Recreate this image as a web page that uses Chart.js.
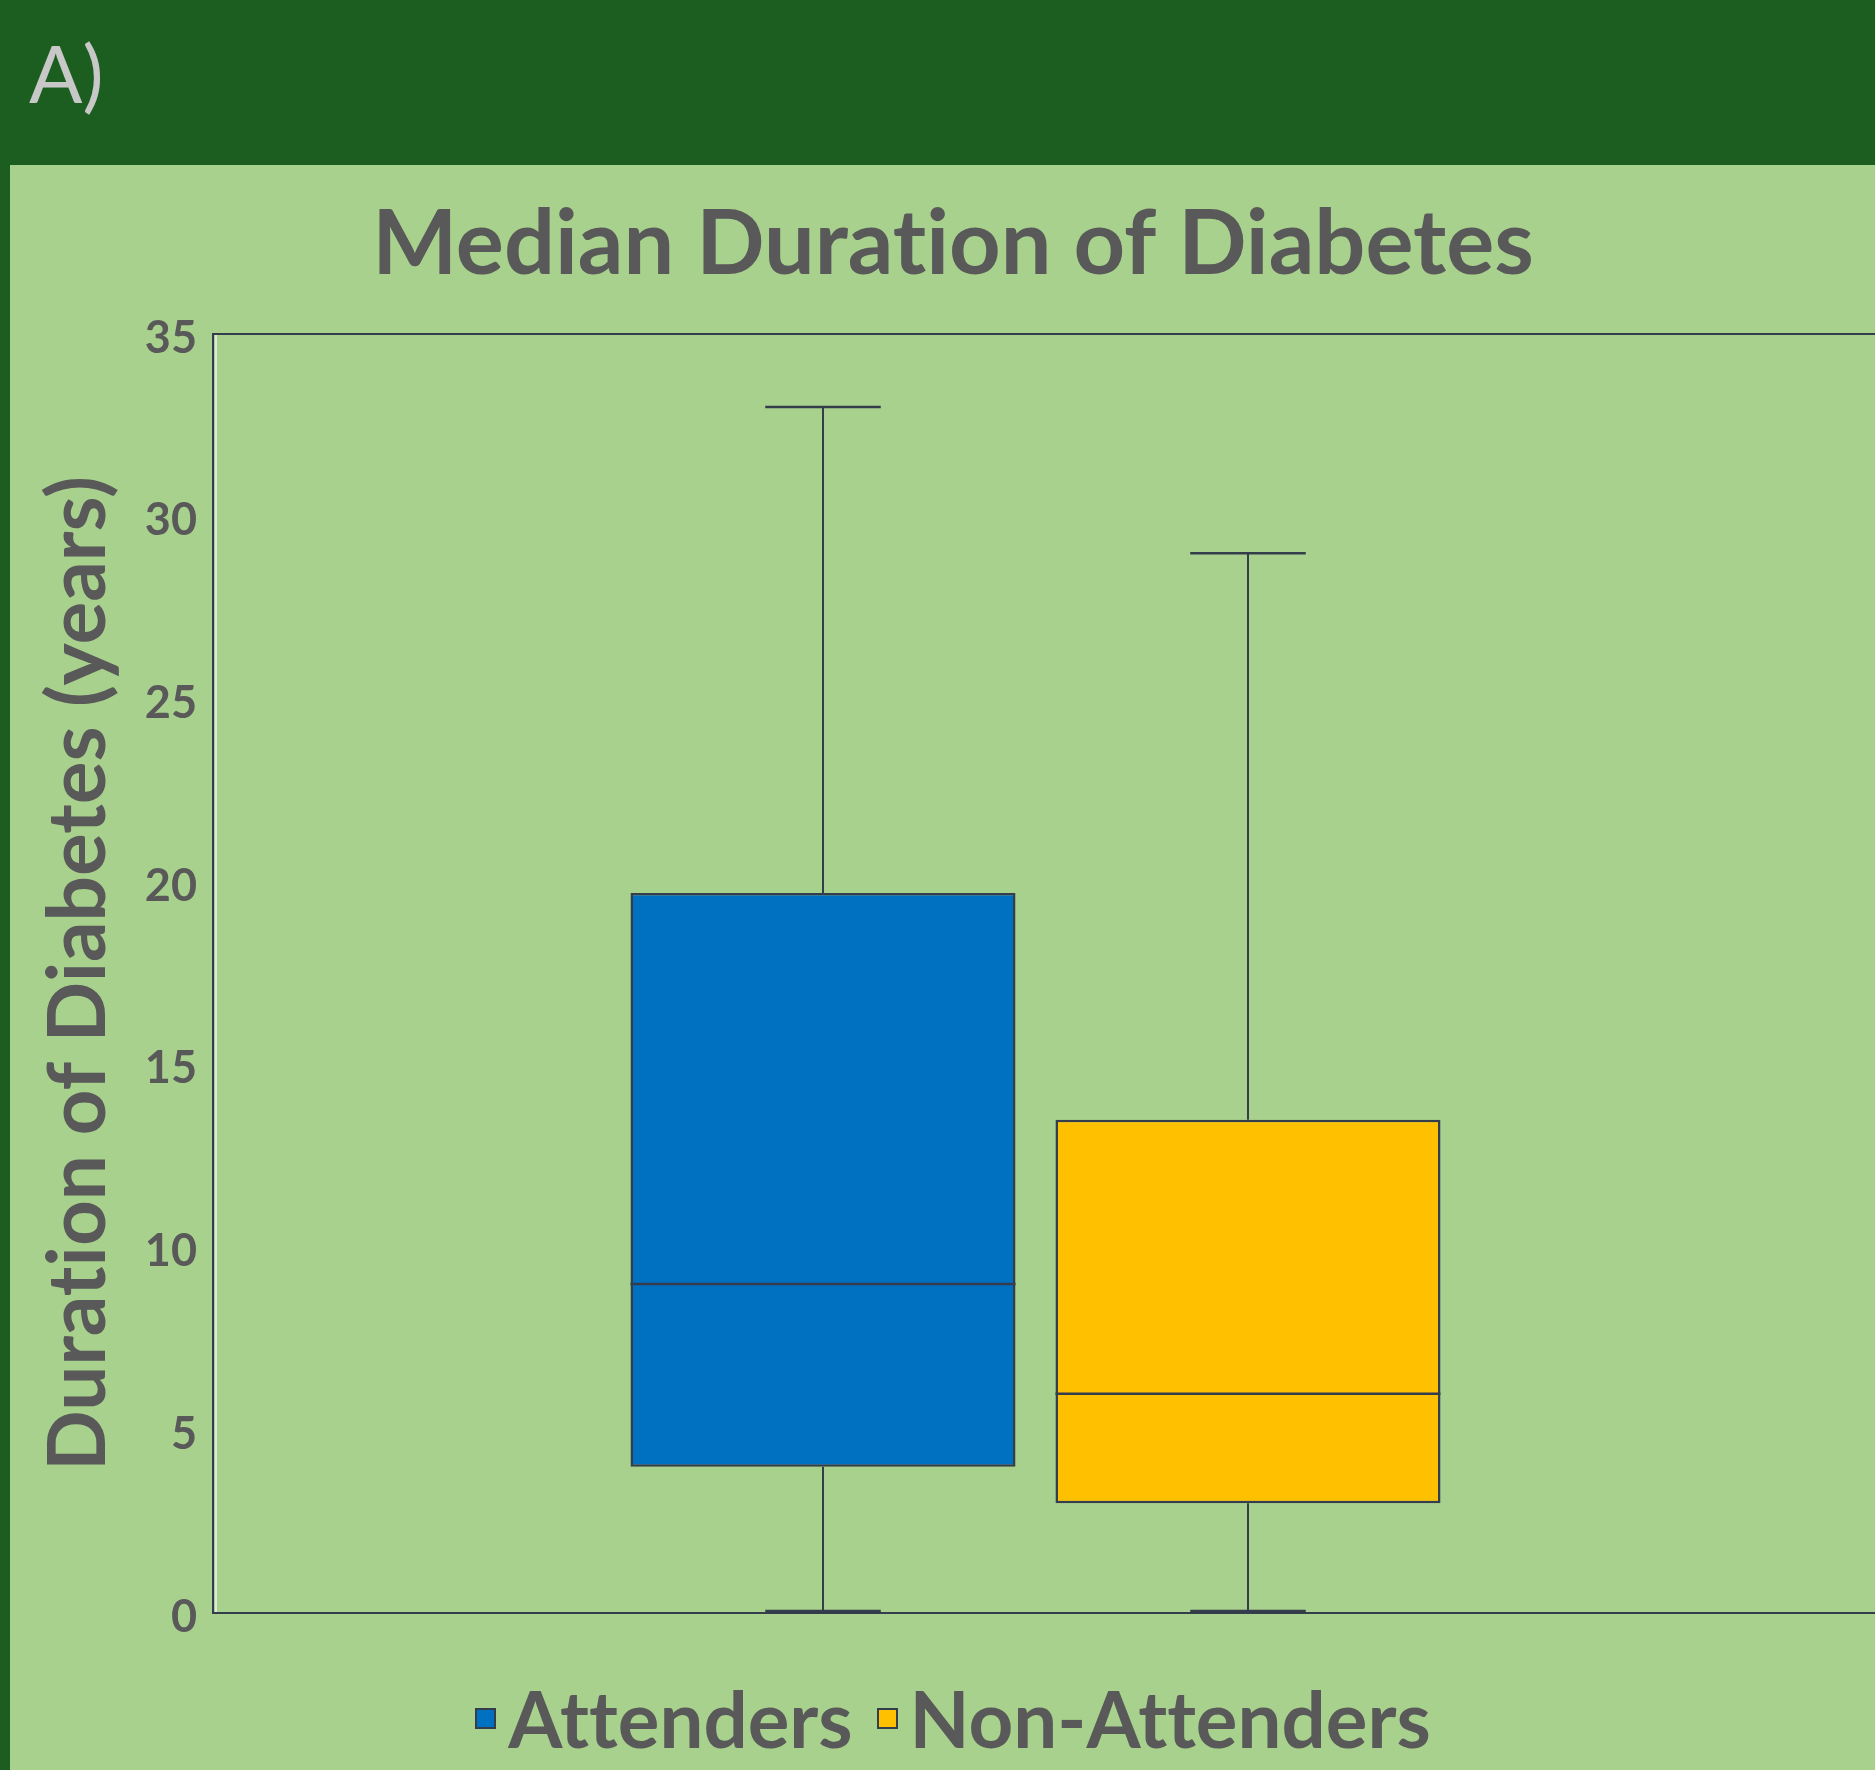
<!DOCTYPE html>
<html>
<head>
<meta charset="utf-8">
<title>Median Duration of Diabetes</title>
<script src="https://cdn.jsdelivr.net/npm/chart.js@4.4.1/dist/chart.umd.min.js"></script>
<style>
  html, body { margin: 0; padding: 0; }
  body {
    width: 1875px; height: 1770px; overflow: hidden; position: relative;
    background: #1B5E20; font-family: Lato, "Open Sans", sans-serif;
    font-variant-ligatures: none;
  }
  #panel { position: absolute; left: 10px; top: 165px; right: 0; bottom: 0; background: #A9D18E; }
  #tag {
    position: absolute; left: 29px; top: 33px; margin: 0;
    font-weight: 400; font-size: 79px; line-height: 1; color: #C8C8C8;
  }
  #chart { position: absolute; left: 10px; top: 165px; }
  #legend {
    position: absolute; left: 10px; top: 1679px; width: 1886px; height: 78px;
    display: flex; justify-content: center; align-items: center;
  }
  .item { display: flex; align-items: center; margin: 0 12px; }
  .swatch { width: 21px; height: 21px; box-sizing: border-box; border: 2px solid #343D4B; margin-right: 12px; }
  .label { font-weight: 700; font-size: 78px; line-height: 1; color: #595959; }
</style>
</head>
<body>
<div id="panel"></div>
<div id="tag">A)</div>
<canvas id="chart" width="1886" height="1605"></canvas>
<div id="legend"></div>
<script>
// Groups and their five-number summaries (years)
const groups = ['Attenders', 'Non-Attenders'];
const minVals = [0, 0];
const q1Vals = [4, 3];
const medianVals = [9, 6];
const q3Vals = [19.7, 13.5];
const maxVals = [33, 29];
const groupColors = ['#0070C0', '#FFC000'];

// Value axis
const yMin = 0;
const yMax = 35;
const yStep = 5;

const INK = '#343D4B';
const TEXT = '#595959';

// Plain glyphs on the canvas (no ligatures such as "ti")
const plainText = {
  id: 'plainText',
  beforeDraw(chart) { chart.ctx.textRendering = 'optimizeSpeed'; }
};

// Whiskers, caps and medians drawn on top of the floating-bar boxes,
// plus the plot frame lines.
const boxExtras = {
  id: 'boxExtras',
  beforeDatasetsDraw(chart) {
    const { ctx, chartArea, scales: { y } } = chart;
    ctx.save();
    // faint inner edge next to the value axis
    ctx.strokeStyle = 'rgba(235,235,235,0.85)';
    ctx.lineWidth = 2;
    ctx.beginPath();
    ctx.moveTo(chartArea.left + 3, chartArea.top + 1);
    ctx.lineTo(chartArea.left + 3, chartArea.bottom - 1);
    ctx.stroke();
    // top and bottom frame lines run to the right edge
    ctx.strokeStyle = INK;
    ctx.lineWidth = 2;
    [y.max, y.min].forEach(v => {
      const py = Math.round(y.getPixelForValue(v));
      ctx.beginPath();
      ctx.moveTo(chartArea.left, py);
      ctx.lineTo(chart.width, py);
      ctx.stroke();
    });
    ctx.restore();
  },
  afterDatasetsDraw(chart) {
    const { ctx, scales: { y } } = chart;
    ctx.save();
    ctx.strokeStyle = INK;
    chart.data.datasets.forEach((ds, i) => {
      const meta = chart.getDatasetMeta(i);
      meta.data.forEach(bar => {
        const { x, width } = bar.getProps(['x', 'width'], true);
        const capHalf = width * 0.15;
        const pMin = y.getPixelForValue(minVals[i]);
        const pQ1 = y.getPixelForValue(q1Vals[i]);
        const pMed = y.getPixelForValue(medianVals[i]);
        const pQ3 = y.getPixelForValue(q3Vals[i]);
        const pMax = y.getPixelForValue(maxVals[i]);
        ctx.lineWidth = 2;
        ctx.beginPath();
        ctx.moveTo(x, pQ3); ctx.lineTo(x, pMax);
        ctx.moveTo(x, pQ1); ctx.lineTo(x, pMin - 1);
        ctx.stroke();
        ctx.lineWidth = 2.5;
        ctx.beginPath();
        ctx.moveTo(x - capHalf, pMax); ctx.lineTo(x + capHalf, pMax);
        ctx.moveTo(x - capHalf, pMin - 2); ctx.lineTo(x + capHalf, pMin - 2);
        ctx.moveTo(x - width / 2, pMed); ctx.lineTo(x + width / 2, pMed);
        ctx.stroke();
      });
    });
    ctx.restore();
  }
};

function build() {
  const datasets = groups.map((g, i) => ({
    label: g,
    data: [[q1Vals[i], q3Vals[i]]],
    backgroundColor: groupColors[i],
    borderColor: INK,
    borderWidth: 2.5,
    borderSkipped: false
  }));

  new Chart(document.getElementById('chart'), {
    type: 'bar',
    data: { labels: [''], datasets },
    options: {
      responsive: false,
      animation: false,
      events: [],
      categoryPercentage: 0.5167,
      barPercentage: 0.906,
      layout: { padding: { top: 0, left: 0, right: 0, bottom: 157 } },
      plugins: {
        legend: { display: false },
        tooltip: { enabled: false },
        title: {
          display: true,
          text: 'Median Duration of Diabetes',
          color: TEXT,
          font: { family: 'Lato', weight: 'bold', size: 90, lineHeight: 1.2 },
          padding: { top: 26, bottom: 35 }
        }
      },
      scales: {
        x: { display: false },
        y: {
          min: yMin,
          max: yMax,
          afterFit: s => { s.width = 203; },
          grid: { display: false, drawTicks: false },
          border: { display: true, color: INK, width: 2 },
          ticks: {
            stepSize: yStep,
            padding: 16,
            labelOffset: 4,
            color: TEXT,
            font: { family: 'Lato', weight: 'bold', size: 45 }
          },
          title: {
            display: true,
            text: 'Duration of Diabetes (years)',
            color: TEXT,
            font: { family: 'Lato', weight: 'bold', size: 80, lineHeight: 1.2 },
            padding: { top: 21.5, bottom: 0 }
          }
        },
        yRight: {
          position: 'right',
          display: true,
          afterFit: s => { s.width = 38; },
          grid: { display: false },
          border: { display: false },
          ticks: { display: false }
        }
      }
    },
    plugins: [plainText, boxExtras]
  });

  const legend = document.getElementById('legend');
  groups.forEach((g, i) => {
    const item = document.createElement('div');
    item.className = 'item';
    const sw = document.createElement('span');
    sw.className = 'swatch';
    sw.style.background = groupColors[i];
    const lb = document.createElement('span');
    lb.className = 'label';
    lb.textContent = g;
    item.appendChild(sw);
    item.appendChild(lb);
    legend.appendChild(item);
  });
}

Promise.all([
  document.fonts.load('bold 84px Lato'),
  document.fonts.load('400 79px Lato')
]).then(build, build);
</script>
</body>
</html>
